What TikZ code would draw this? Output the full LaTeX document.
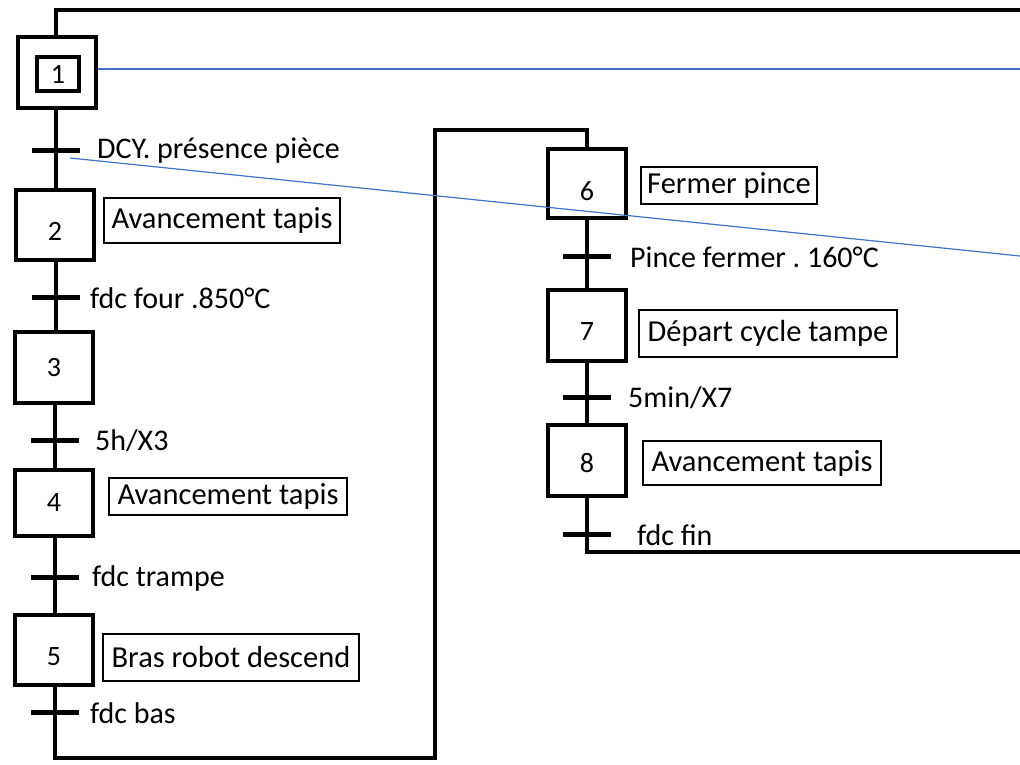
\documentclass[tikz,border=0pt]{standalone}
\usepackage{fontspec}
\setmainfont{Carlito}
\frenchspacing
\begin{document}
\begin{tikzpicture}[x=1pt,y=-1pt,
  stepbox/.style={draw, line width=4pt, minimum width=78pt, minimum height=70pt, inner sep=0pt, font=\fontsize{28}{32}\selectfont},
  steplbl/.style={inner sep=0pt, font=\fontsize{28}{32}\selectfont},
  actbox/.style={draw, line width=2.5pt, inner sep=0pt, font=\fontsize{30.5}{34}\selectfont},
  tbar/.style={line width=5pt},
  tlabel/.style={anchor=west, inner sep=0pt, font=\fontsize{30}{34}\selectfont},
  link/.style={line width=4pt},
  blueline/.style={draw={rgb,255:red,68;green,114;blue,196}, line width=1.2pt}]
\useasboundingbox (0,0) rectangle (1020,764);
% left column
\node[stepbox, minimum width=78pt, minimum height=71pt] (s1) at (57,72.5) {};
\node[stepbox, minimum width=42pt, minimum height=34pt] (s1in) at (58,74) {1};
\node[stepbox, minimum height=70pt] (s2) at (55,225) {};
\node[stepbox, minimum height=71pt] (s3) at (54,367.5) {};
\node[stepbox, minimum height=66pt] (s4) at (54,503) {};
\node[stepbox, minimum height=70pt] (s5) at (54,650) {};
% right column
\node[stepbox, minimum height=69pt] (s6) at (587,183.5) {};
\node[stepbox, minimum height=71pt] (s7) at (587,325.5) {};
\node[stepbox, minimum height=71pt] (s8) at (587,460.5) {};
% step numbers
\node[steplbl] (n2) at ([yshift=-6pt]s2.center) {2};
\node[steplbl] (n3) at ([yshift=0pt]s3.center) {3};
\node[steplbl] (n4) at ([yshift=0pt]s4.center) {4};
\node[steplbl] (n5) at ([yshift=-7pt]s5.center) {5};
\node[steplbl] (n6) at ([yshift=-8pt]s6.center) {6};
\node[steplbl] (n7) at ([yshift=-6pt]s7.center) {7};
\node[steplbl] (n8) at ([yshift=-3pt]s8.center) {8};
% actions
\node[actbox, minimum width=236pt, minimum height=45pt] (a2) at (222,220.5) {Avancement tapis};
\node[actbox, minimum width=238pt, minimum height=37pt] (a4) at (228,496.5) {Avancement tapis};
\node[actbox, minimum width=256pt, minimum height=47pt] (a5) at (231,657.5) {Bras robot descend};
\node[actbox, minimum width=176pt, minimum height=37pt] (a6) at (729,185.5) {Fermer pince};
\node[actbox, minimum width=258pt, minimum height=47pt] (a7) at (768,333.5) {Départ cycle tampe};
\node[actbox, minimum width=238pt, minimum height=44pt] (a8) at (762,463) {Avancement tapis};
% transitions
\coordinate (t1) at (56,150);
\coordinate (t2) at (56,297);
\coordinate (t3) at (55,440);
\coordinate (t4) at (55,577);
\coordinate (t5) at (55,712);
\coordinate (t6) at (587,256);
\coordinate (t7) at (587,397);
\coordinate (t8) at (587,534);
\foreach \t in {t1,t2,t3,t4,t5,t6,t7,t8}
  \draw[tbar] ([xshift=-24pt]\t) -- ([xshift=24pt]\t);
\node[tlabel] (l1) at (97,151) {DCY. présence pièce};
\node[tlabel] (l2) at (90,298) {fdc four .850°C};
\node[tlabel] (l3) at (95,441) {5h/X3};
\node[tlabel] (l4) at (92,578) {fdc trampe};
\node[tlabel] (l5) at (90,713) {fdc bas};
\node[tlabel] (l6) at (630,257) {Pince fermer . 160°C};
\node[tlabel] (l7) at (628,398) {5min/X7};
\node[tlabel] (l8) at (637,535) {fdc fin};
% links left
\draw[link] (s1.south -| t1) -- (s2.north -| t1);
\draw[link] (s2.south -| t2) -- (s3.north -| t2);
\draw[link] (s3.south -| t3) -- (s4.north -| t3);
\draw[link] (s4.south -| t4) -- (s5.north -| t4);
% links right
\draw[link] (s6.south) -- (s7.north);
\draw[link] (s7.south) -- (s8.north);
% loops
\coordinate (topR) at (1020,10);
\coordinate (botL) at (435,758);
\coordinate (midT) at (435,130);
\coordinate (botR) at (1020,552);
\draw[link, line join=miter] (s1.north -| t1) -- (t1 |- topR) -- (topR);
\draw[link, line join=miter] (s5.south -| t5) -- (t5 |- botL) -- (botL) -- (midT) -- (s6.north |- midT) -- (s6.north);
\draw[link, line join=miter] (s8.south) -- (s8.south |- botR) -- (botR);
% blue lines
\coordinate (b1) at (1020,69);
\coordinate (b2s) at (70,158);
\coordinate (b2) at (1020,256);
\draw[blueline] (s1.east |- b1) -- (b1);
\draw[blueline] (b2s) -- (b2);
\end{tikzpicture}
\end{document}
